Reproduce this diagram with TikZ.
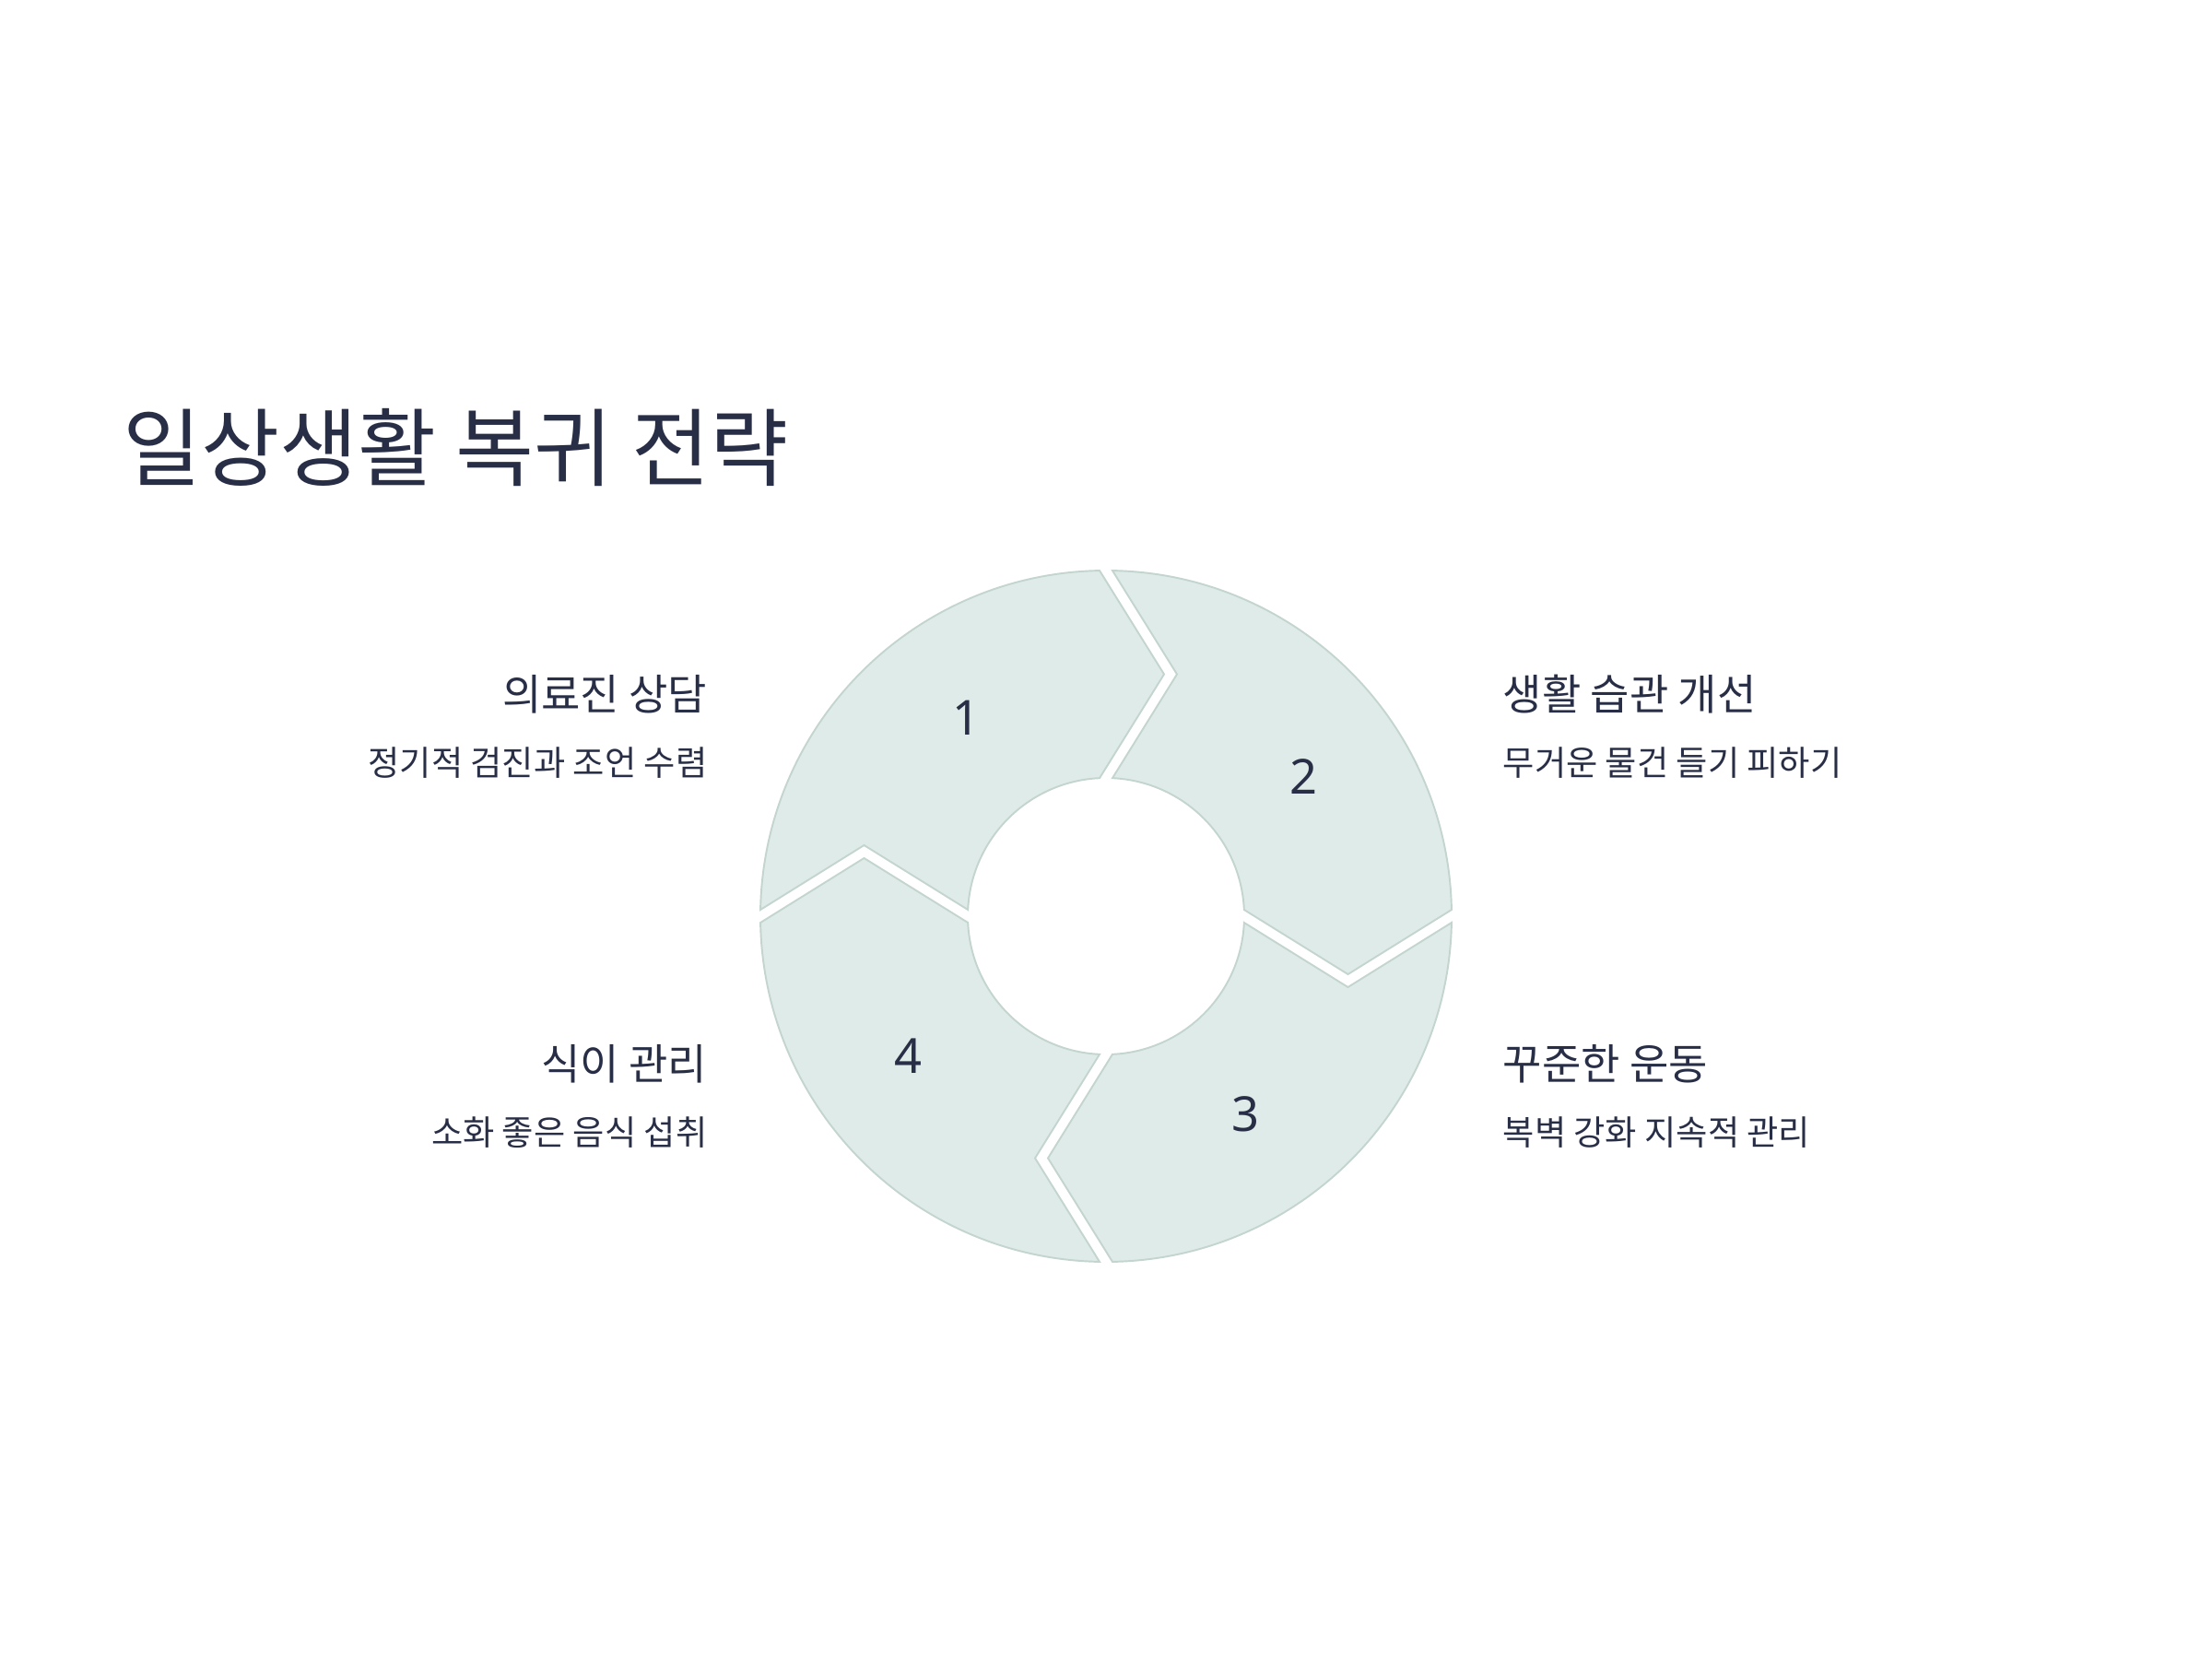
\documentclass[tikz,border=0pt]{standalone}
\usepackage{fontspec}
\setmainfont{Noto Sans CJK KR}
\newfontfamily\digitfont{Noto Sans}
\usepackage{xcolor}
\usetikzlibrary{positioning}
\definecolor{segfill}{HTML}{DFEBE8}
\definecolor{segline}{HTML}{C4D5D0}
\definecolor{inktext}{HTML}{282E46}
\tikzset{
  segment/.style={fill=segfill, draw=segline, line width=0.55pt, line join=miter},
  stepnum/.style={font=\digitfont\fontsize{14.9}{16}\selectfont, text=inktext},
  headtext/.style={font=\fontsize{13.1}{15}\selectfont, text=inktext, inner sep=0pt},
  subtext/.style={font=\fontsize{10.6}{12}\selectfont, text=inktext, inner sep=0pt}
}

\begin{document}
\begin{tikzpicture}
\useasboundingbox (0,0) rectangle (24,18);
\coordinate (ring) at (12,8.06);

% title
\node[anchor=west, inner sep=0pt, text=inktext, font=\fontsize{26.3}{30}\selectfont] (title) at (1.33,13.14) {일상생활 복귀 전략};

% ring of four arrow segments
\foreach \k/\num in {0/1,1/2,2/3,3/4}{
  \begin{scope}[shift={(ring)}, rotate=-90*\k]
    \path[segment] (178.93:3.75) arc[start angle=178.93, end angle=91.07, radius=3.75]
      -- (0.63,2.625) -- (92.67:1.5) arc[start angle=92.67, end angle=177.33, radius=1.5]
      -- (-2.625,0.77) -- cycle;
    \node[stepnum] (num\num) at (125.2:2.63) {\num};
  \end{scope}
}

% left side
\node[headtext, anchor=east] (head1) at (7.68,10.47) {의료진 상담};
\node[subtext, anchor=east] (sub1) at (7.68,9.72) {정기적 검진과 조언 수렴};
\node[headtext, anchor=east] (head4) at (7.68,6.455) {식이 관리};
\node[subtext, anchor=east] (sub4) at (7.68,5.71) {소화 좋은 음식 섭취};

% right side
\node[headtext, anchor=west] (head2) at (16.30,10.47) {생활 습관 개선};
\node[subtext, anchor=west] (sub2) at (16.30,9.72) {무거운 물건 들기 피하기};
\node[headtext, anchor=west] (head3) at (16.30,6.455) {꾸준한 운동};
\node[subtext, anchor=west] (sub3) at (16.30,5.71) {복벽 강화 지속적 관리};
\end{tikzpicture}
\end{document}
